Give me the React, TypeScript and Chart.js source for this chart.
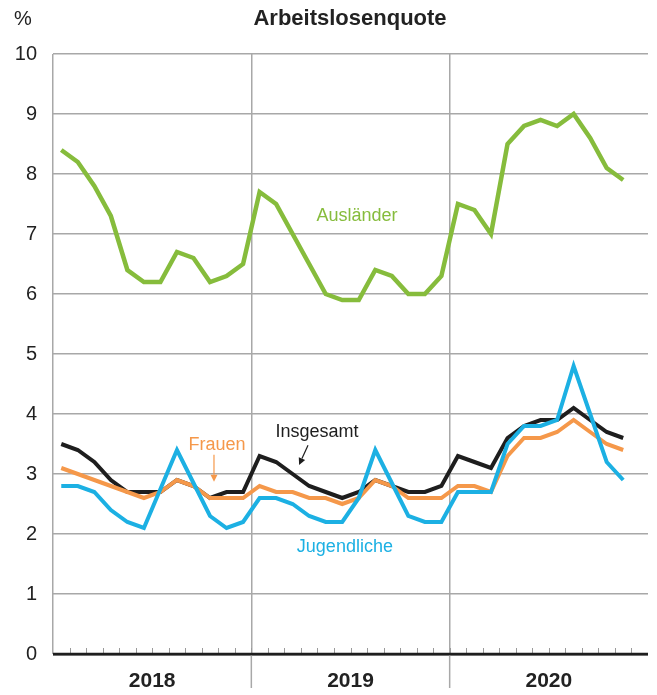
import React, { useEffect, useRef } from "react";
import { Chart, registerables } from "chart.js";

Chart.register(...registerables);

const YEARS = ["2018", "2019", "2020"];
const MONTHS = 36;

const auslaender = [8.4, 8.2, 7.8, 7.3, 6.4, 6.2, 6.2, 6.7, 6.6, 6.2, 6.3, 6.5,
  7.7, 7.5, 7.0, 6.5, 6.0, 5.9, 5.9, 6.4, 6.3, 6.0, 6.0, 6.3,
  7.5, 7.4, 7.0, 8.5, 8.8, 8.9, 8.8, 9.0, 8.6, 8.1, 7.9];
const insgesamt = [3.5, 3.4, 3.2, 2.9, 2.7, 2.7, 2.7, 2.9, 2.8, 2.6, 2.7, 2.7,
  3.3, 3.2, 3.0, 2.8, 2.7, 2.6, 2.7, 2.9, 2.8, 2.7, 2.7, 2.8,
  3.3, 3.2, 3.1, 3.6, 3.8, 3.9, 3.9, 4.1, 3.9, 3.7, 3.6];
const frauen = [3.1, 3.0, 2.9, 2.8, 2.7, 2.6, 2.7, 2.9, 2.8, 2.6, 2.6, 2.6,
  2.8, 2.7, 2.7, 2.6, 2.6, 2.5, 2.6, 2.9, 2.8, 2.6, 2.6, 2.6,
  2.8, 2.8, 2.7, 3.3, 3.6, 3.6, 3.7, 3.9, 3.7, 3.5, 3.4];
const jugendliche = [2.8, 2.8, 2.7, 2.4, 2.2, 2.1, 2.75, 3.4, 2.85, 2.3, 2.1, 2.2,
  2.6, 2.6, 2.5, 2.3, 2.2, 2.2, 2.6, 3.4, 2.85, 2.3, 2.2, 2.2,
  2.7, 2.7, 2.7, 3.5, 3.8, 3.8, 3.9, 4.8, 4.0, 3.2, 2.9];

const GREEN = "#86bc3c";
const BLACK = "#1e1e1e";
const ORANGE = "#f5984a";
const BLUE = "#1cb0e3";
const GRID = "#a8a8a8";
const FONT = "'Liberation Sans', Arial, Helvetica, sans-serif";

const toPoints = (arr: number[]) => arr.map((v, i) => ({ x: i + 0.5, y: v }));

const decorPlugin = {
  id: "decor",
  beforeDatasetsDraw(chart: any) {
    const { ctx, chartArea, scales } = chart;
    const x = scales.x;
    ctx.save();
    ctx.strokeStyle = "#9a9a9a";
    ctx.lineWidth = 1;
    for (let i = 1; i < MONTHS; i++) {
      const px = Math.round(x.getPixelForValue(i)) + 0.5;
      ctx.beginPath();
      ctx.moveTo(px, chartArea.bottom);
      ctx.lineTo(px, chartArea.bottom - 6);
      ctx.stroke();
    }
    ctx.strokeStyle = GRID;
    ctx.lineWidth = 1.5;
    for (const v of [12, 24]) {
      const px = x.getPixelForValue(v);
      ctx.beginPath();
      ctx.moveTo(px, chartArea.bottom);
      ctx.lineTo(px, chartArea.bottom + 34);
      ctx.stroke();
    }
    ctx.strokeStyle = BLACK;
    ctx.lineWidth = 2.5;
    ctx.beginPath();
    ctx.moveTo(chartArea.left, scales.y.getPixelForValue(0));
    ctx.lineTo(chartArea.right, scales.y.getPixelForValue(0));
    ctx.stroke();
    ctx.restore();
  },
  afterDatasetsDraw(chart: any) {
    const { ctx, scales } = chart;
    const X = (v: number) => scales.x.getPixelForValue(v);
    const Y = (v: number) => scales.y.getPixelForValue(v);
    ctx.save();
    ctx.textAlign = "center";
    ctx.textBaseline = "middle";
    ctx.fillStyle = "#222";
    ctx.font = `20px ${FONT}`;
    ctx.fillText("%", 23, 19);
    ctx.font = `bold 22px ${FONT}`;
    ctx.fillText("Arbeitslosenquote", 350, 19);

    ctx.font = `18px ${FONT}`;
    ctx.fillStyle = GREEN;
    ctx.fillText("Ausländer", X(18.39), Y(7.3));
    ctx.fillStyle = BLACK;
    ctx.fillText("Insgesamt", X(15.97), Y(3.7));
    ctx.fillStyle = BLUE;
    ctx.fillText("Jugendliche", X(17.66), Y(1.78));
    ctx.fillStyle = ORANGE;
    ctx.fillText("Frauen", X(9.92), Y(3.48));

    const arrow = (x1: number, y1: number, x2: number, y2: number, color: string) => {
      ctx.strokeStyle = color;
      ctx.fillStyle = color;
      ctx.lineWidth = 1.2;
      const ang = Math.atan2(y2 - y1, x2 - x1);
      const hl = 7, hw = 3.5;
      const bx = x2 - hl * Math.cos(ang), by = y2 - hl * Math.sin(ang);
      ctx.beginPath();
      ctx.moveTo(x1, y1);
      ctx.lineTo(bx, by);
      ctx.stroke();
      ctx.beginPath();
      ctx.moveTo(x2, y2);
      ctx.lineTo(bx + hw * Math.sin(ang), by - hw * Math.cos(ang));
      ctx.lineTo(bx - hw * Math.sin(ang), by + hw * Math.cos(ang));
      ctx.closePath();
      ctx.fill();
    };
    arrow(X(9.74), Y(3.32), X(9.74), Y(2.87), ORANGE);
    arrow(X(15.43), Y(3.48), X(14.89), Y(3.15), BLACK);
    ctx.restore();
  },
};

export default function App() {
  const ref = useRef<HTMLCanvasElement | null>(null);
  useEffect(() => {
    if (!ref.current) return;
    const line = (data: number[], color: string, w: number) => ({
      data: toPoints(data),
      borderColor: color,
      backgroundColor: color,
      borderWidth: w,
      pointRadius: 0,
      tension: 0,
      fill: false,
      borderJoinStyle: "miter" as const,
    });
    const chart = new Chart(ref.current, {
      type: "line",
      data: {
        datasets: [
          line(jugendliche, BLUE, 4),
          line(frauen, ORANGE, 4),
          line(insgesamt, BLACK, 4),
          line(auslaender, GREEN, 4.5),
        ],
      },
      options: {
        responsive: false,
        animation: false,
        layout: { padding: { top: 54, right: 9, left: 0, bottom: 0 } },
        plugins: { legend: { display: false }, tooltip: { enabled: false }, title: { display: false } },
        scales: {
          x: {
            type: "linear",
            min: 0,
            max: MONTHS,
            ticks: {
              stepSize: 1,
              autoSkip: false,
              maxRotation: 0,
              minRotation: 0,
              maxTicksLimit: 100,
              padding: 0,
              color: "#222",
              font: { family: FONT, size: 21, weight: "bold", lineHeight: 2.6 },
              callback: (v: any) => (Number(v) % 12 === 6 ? YEARS[(Number(v) - 6) / 12] : ""),
            },
            grid: {
              drawTicks: false,
              lineWidth: 1.5,
              color: (c: any) => {
                const v = c.tick ? c.tick.value : -1;
                return v === 0 || v === 12 || v === 24 ? GRID : "rgba(0,0,0,0)";
              },
            },
            border: { display: false },
            afterFit: (s: any) => { s.height = 41; },
          },
          y: {
            min: 0,
            max: 10,
            ticks: {
              stepSize: 1,
              padding: 16,
              color: "#222",
              font: { family: FONT, size: 20 },
            },
            grid: {
              drawTicks: false,
              color: (c: any) => (c.tick && c.tick.value === 0 ? BLACK : GRID),
              lineWidth: (c: any) => (c.tick && c.tick.value === 0 ? 2.5 : 1.5),
            },
            border: { display: false },
            afterFit: (s: any) => { s.width = 53; },
          },
        },
      },
      plugins: [decorPlugin],
    });
    return () => chart.destroy();
  }, []);
  return (
    <div style={{ position: "absolute", left: 0, top: 0, width: 657, height: 695, background: "#fff" }}>
      <canvas ref={ref} width={657} height={695} style={{ display: "block" }} />
    </div>
  );
}
